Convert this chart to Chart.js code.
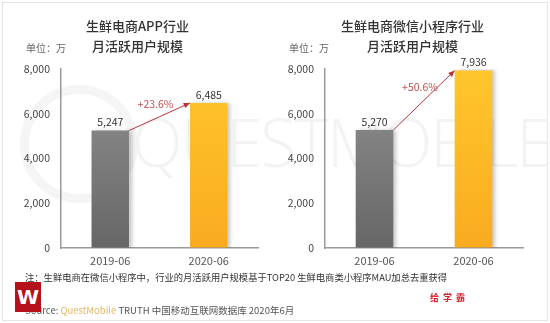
<!DOCTYPE html>
<html>
<head>
<meta charset="utf-8">
<script src="https://cdn.jsdelivr.net/npm/chart.js@4"></script>
<style>
  body { margin: 0; background: #fff; }
  #page { position: relative; width: 550px; height: 323px; overflow: hidden; background: #fff;
    font-family: "Noto Sans CJK SC", "Noto Sans", sans-serif; }
  #frame { position: absolute; left: 2px; top: 2px; right: 2px; bottom: 2px; border: 1px solid #e4e4e4; }
  .wm { position: absolute; color: #f3f3f3; font-family: "Open Sans", sans-serif; font-weight: 300; white-space: nowrap; }
  .ring { position: absolute; border: 9px solid #f5f5f5; border-radius: 50%; }
  canvas { position: absolute; top: 0; }
  .title { position: absolute; top: 16px; width: 275px; text-align: center; font-size: 13px; font-weight: 500;
    color: #333; line-height: 20px; }
  .unit { position: absolute; top: 40px; font-size: 10px; color: #666; }
  .note { position: absolute; left: 25px; top: 270px; font-size: 9.3px; color: #333; white-space: nowrap; }
  .src { position: absolute; left: 25px; top: 303px; font-size: 9.5px; color: #555; white-space: nowrap; }
  .src span { color: #e2b766; }
  .logo { position: absolute; left: 15px; top: 282px; width: 26px; height: 30px; background: #b5121b;
    color: #fff; font: bold 20px/30px "DejaVu Sans", sans-serif; text-align: center; }
  .tag { position: absolute; left: 430px; top: 291px; font-size: 9px; font-weight: bold; color: #d4232b; letter-spacing: 4px; }
</style>
</head>
<body>
<div id="page">
  <div id="frame"></div>
  <div class="ring" style="left:20px; top:85px; width:100px; height:100px;"></div>
  <div class="wm" style="left:132px; top:96px; font-size:66px; letter-spacing:-2px;">QUESTMOBILE</div>

  <canvas id="appChart" width="275" height="323" style="left:0"></canvas>
  <canvas id="miniChart" width="275" height="323" style="left:275px"></canvas>

  <div class="title" style="left:0">生鲜电商APP行业<br>月活跃用户规模</div>
  <div class="title" style="left:275px">生鲜电商微信小程序行业<br>月活跃用户规模</div>
  <div class="unit" style="left:26px">单位：万</div>
  <div class="unit" style="left:289px">单位：万</div>

  <div class="note">注：生鲜电商在微信小程序中，行业的月活跃用户规模基于TOP20 生鲜电商类小程序MAU加总去重获得</div>
  <div class="src">Source: <span>QuestMobile</span> TRUTH 中国移动互联网数据库 2020年6月</div>
  <div class="logo">W</div>
  <div class="tag">给学霸</div>
</div>

<script>
const categories = ["2019-06", "2020-06"]
const appValues = [5247, 6485]
const miniValues = [5270, 7936]
const growthLabels = ["+23.6%", "+50.6%"]
const yTicks = [0, 2000, 4000, 6000, 8000]

const FONT = '"Noto Sans CJK SC", "Noto Sans", sans-serif'

function barGradient(context) {
  const chart = context.chart
  const area = chart.chartArea
  if (!area) return "#888"
  const g = chart.ctx.createLinearGradient(0, area.top, 0, area.bottom)
  if (context.dataIndex === 0) {
    g.addColorStop(0, "#929292")
    g.addColorStop(1, "#666666")
  } else {
    g.addColorStop(0, "#ffc62c")
    g.addColorStop(1, "#f9ab20")
  }
  return g
}

// shadow on bars, then value labels and the growth arrow
const barExtras = {
  id: "barExtras",
  beforeDatasetsDraw(chart) {
    const ctx = chart.ctx
    ctx.save()
    ctx.shadowColor = "rgba(0,0,0,0.22)"
    ctx.shadowBlur = 4
    ctx.shadowOffsetX = 3
  },
  afterDatasetsDraw(chart) {
    const ctx = chart.ctx
    ctx.restore()
    const bars = chart.getDatasetMeta(0).data
    const values = chart.data.datasets[0].data

    ctx.save()
    ctx.fillStyle = "#333"
    ctx.font = "10.5px " + FONT
    ctx.textAlign = "center"
    ctx.textBaseline = "bottom"
    bars.forEach(function (b, i) {
      ctx.fillText(values[i].toLocaleString("en-US"), b.x, b.y - 3)
    })

    const a = bars[0], b = bars[1]
    const x1 = a.x + a.width / 2, y1 = a.y
    const x2 = b.x - b.width / 2, y2 = b.y
    ctx.strokeStyle = "#b8323c"
    ctx.fillStyle = "#b8323c"
    ctx.lineWidth = 1
    ctx.beginPath()
    ctx.moveTo(x1, y1)
    ctx.lineTo(x2, y2)
    ctx.stroke()
    const ang = Math.atan2(y2 - y1, x2 - x1)
    ctx.beginPath()
    ctx.moveTo(x2, y2)
    ctx.lineTo(x2 - 7 * Math.cos(ang - 0.4), y2 - 7 * Math.sin(ang - 0.4))
    ctx.lineTo(x2 - 7 * Math.cos(ang + 0.4), y2 - 7 * Math.sin(ang + 0.4))
    ctx.closePath()
    ctx.fill()

    ctx.fillStyle = "#c0504d"
    ctx.font = "10.5px " + FONT
    ctx.textBaseline = "middle"
    ctx.fillText(chart.options.growth, (x1 + x2) / 2 - 4, (y1 + y2) / 2 - 13)
    ctx.restore()
  },
}

function makeChart(id, values, growth, axisWidth, rightPad) {
  return new Chart(document.getElementById(id), {
    type: "bar",
    data: {
      labels: categories,
      datasets: [{
        data: values,
        backgroundColor: barGradient,
        categoryPercentage: 1,
        barPercentage: 0.38,
      }],
    },
    options: {
      responsive: false,
      animation: false,
      devicePixelRatio: 1,
      growth: growth,
      layout: { padding: { top: 69, bottom: 55, left: 0, right: rightPad } },
      plugins: { legend: { display: false }, tooltip: { enabled: false } },
      scales: {
        x: {
          grid: { display: true, color: "transparent", drawTicks: false },
          border: { color: "#9a9a9a", width: 1.5 },
          ticks: { color: "#555", font: { size: 11, family: FONT }, padding: 6 },
          afterFit(scale) { scale.height = 20 },
        },
        y: {
          min: 0,
          max: 8000,
          afterBuildTicks(scale) { scale.ticks = yTicks.map(function (v) { return { value: v } }) },
          grid: { display: true, color: "transparent", drawTicks: false },
          border: { color: "#9a9a9a", width: 1.5 },
          ticks: {
            color: "#444",
            font: { size: 10.5, family: FONT },
            padding: 11,
            callback(v) { return v.toLocaleString("en-US") },
          },
          afterFit(scale) { scale.width = axisWidth },
        },
      },
    },
    plugins: [barExtras],
  })
}

makeChart("appChart", appValues, growthLabels[0], 61, 17)
makeChart("miniChart", miniValues, growthLabels[1], 50, 27)
</script>
</body>
</html>
